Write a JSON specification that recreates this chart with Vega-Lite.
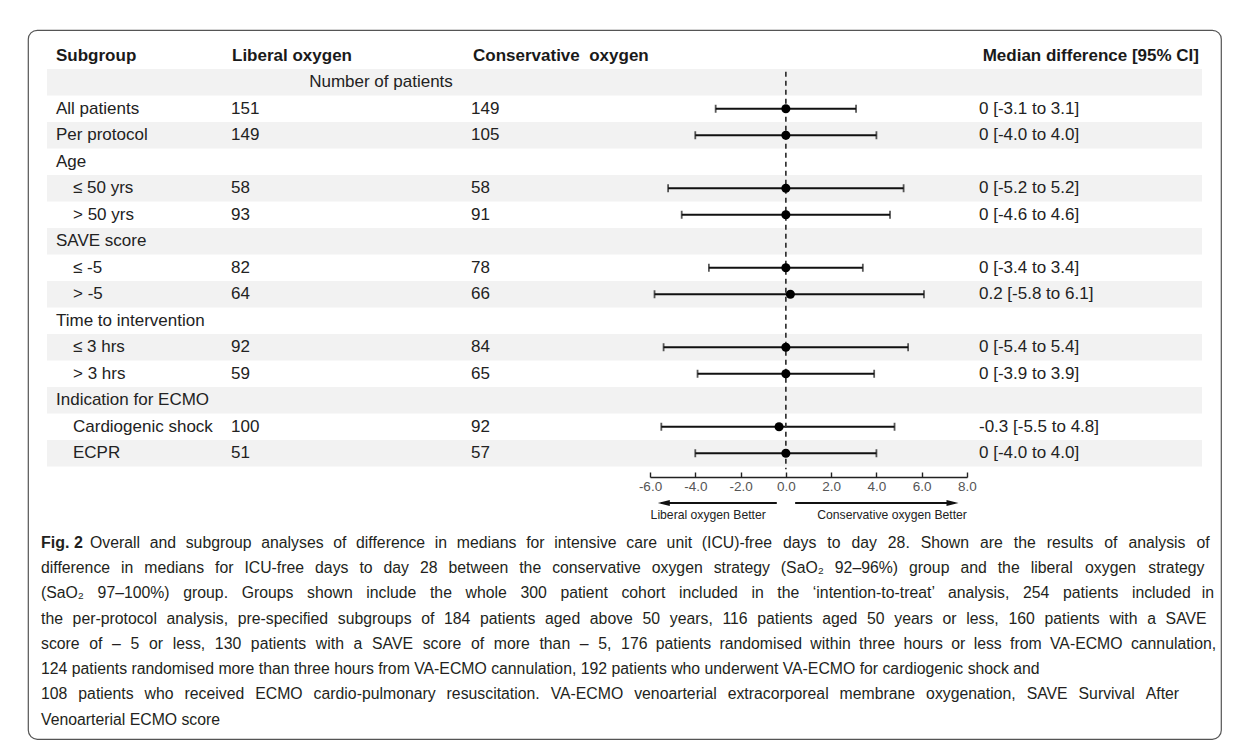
{
  "$schema": "https://vega.github.io/schema/vega-lite/v6.json",
  "width": 1193,
  "height": 709,
  "autosize": {"type": "none"},
  "padding": {"left": 28, "top": 30, "right": 15, "bottom": 15},
  "background": "white",
  "config": {
    "view": {"stroke": "#555555", "strokeWidth": 1.2, "cornerRadius": 9},
    "font": "Liberation Sans"
  },
  "datasets": {
    "rows": [
      {"row": 0, "label": "Subgroup", "level": 0, "lib": "Liberal oxygen", "cons": "Conservative\u00a0 oxygen", "ci": "Median difference [95% CI]"},
      {"row": 1, "label": "Number of patients", "level": -1},
      {"row": 2, "label": "All patients", "level": 0, "lib": "151", "cons": "149", "med": 0, "lo": -3.1, "hi": 3.1, "ci": "0 [-3.1 to 3.1]"},
      {"row": 3, "label": "Per protocol", "level": 0, "lib": "149", "cons": "105", "med": 0, "lo": -4.0, "hi": 4.0, "ci": "0 [-4.0 to 4.0]"},
      {"row": 4, "label": "Age", "level": 0},
      {"row": 5, "label": "≤ 50 yrs", "level": 1, "lib": "58", "cons": "58", "med": 0, "lo": -5.2, "hi": 5.2, "ci": "0 [-5.2 to 5.2]"},
      {"row": 6, "label": "> 50 yrs", "level": 1, "lib": "93", "cons": "91", "med": 0, "lo": -4.6, "hi": 4.6, "ci": "0 [-4.6 to 4.6]"},
      {"row": 7, "label": "SAVE score", "level": 0},
      {"row": 8, "label": "≤ -5", "level": 1, "lib": "82", "cons": "78", "med": 0, "lo": -3.4, "hi": 3.4, "ci": "0 [-3.4 to 3.4]"},
      {"row": 9, "label": "> -5", "level": 1, "lib": "64", "cons": "66", "med": 0.2, "lo": -5.8, "hi": 6.1, "ci": "0.2 [-5.8 to 6.1]"},
      {"row": 10, "label": "Time to intervention", "level": 0},
      {"row": 11, "label": "≤ 3 hrs", "level": 1, "lib": "92", "cons": "84", "med": 0, "lo": -5.4, "hi": 5.4, "ci": "0 [-5.4 to 5.4]"},
      {"row": 12, "label": "> 3 hrs", "level": 1, "lib": "59", "cons": "65", "med": 0, "lo": -3.9, "hi": 3.9, "ci": "0 [-3.9 to 3.9]"},
      {"row": 13, "label": "Indication for ECMO", "level": 0},
      {"row": 14, "label": "Cardiogenic shock", "level": 1, "lib": "100", "cons": "92", "med": -0.3, "lo": -5.5, "hi": 4.8, "ci": "-0.3 [-5.5 to 4.8]"},
      {"row": 15, "label": "ECPR", "level": 1, "lib": "51", "cons": "57", "med": 0, "lo": -4.0, "hi": 4.0, "ci": "0 [-4.0 to 4.0]"}
    ],
    "zeroline": [{"row": 1}, {"row": 16}],
    "arrowrow": [{"row": 17}],
    "caption": [
      {"row": 19,
       "first": "Overall \u2004and \u2004subgroup \u2004analyses \u2004of \u2004difference \u2004in \u2004medians \u2004for \u2004intensive \u2004care \u2004unit \u2004(ICU)-free \u2005\u2006days \u2005\u2006to \u2005\u2006day \u2005\u200628. \u2005\u2006Shown \u2005\u2006are \u2005\u2006the \u2005\u2006results \u2005\u2006of \u2005\u2006analysis \u2005\u2006of",
       "lines": ["",
        "difference \u2005\u2006in \u2005\u2006medians \u2005\u2006for \u2005\u2006ICU-free \u2005\u2006days \u2005\u2006to \u2005\u2006day \u2005\u200628 \u2005\u2006between \u2005\u2006the \u2005\u2006conservative \u2005\u2006oxygen \u2005\u2006strategy \u2005\u2006(SaO₂ \u2005\u200692–96%) \u2005\u2006group \u2005\u2006and \u2005\u2006the \u2005\u2006liberal \u2004\u2006oxygen \u2004\u2006strategy",
        "(SaO₂ \u2004\u200597–100%) \u2004\u2005group. \u2004\u2005Groups \u2004\u2005shown \u2004\u2005include \u2004\u2005the \u2004\u2005whole \u2004\u2005300 \u2004\u2005patient \u2004\u2005cohort \u2004\u2005included \u2004\u2005in \u2004\u2005the \u2004\u2005‘intention-to-treat’ \u2004\u2005analysis, \u2004\u2005254 \u2004\u2005patients \u2004\u2005included \u2005\u2006in",
        "the \u2004per-protocol \u2004analysis, \u2004pre-specified \u2004subgroups \u2004of \u2004184 \u2004patients \u2004aged \u2004above \u200450 \u2004years, \u2004116 \u2004patients \u2004aged \u200450 \u2004years \u2004or \u2004less, \u2004160 \u2004patients \u2004with \u2004a \u2004SAVE",
        "score \u2004of \u2004– \u20045 \u2004or \u2004less, \u2004130 \u2004patients \u2004with \u2004a \u2004SAVE \u2004score \u2004of \u2004more \u2004than \u2004– \u20045, \u2004176 \u2005patients \u2005randomised \u2005within \u2005three \u2005hours \u2005or \u2005less \u2005from \u2005VA-ECMO \u2005cannulation,",
        "124 patients randomised more than three hours from VA-ECMO cannulation, 192 patients who underwent VA-ECMO for cardiogenic shock and",
        "108 \u2005\u2006patients \u2005\u2006who \u2005\u2006received \u2005\u2006ECMO \u2005\u2006cardio-pulmonary \u2005\u2006resuscitation. \u2005\u2006VA-ECMO \u2005\u2006venoarterial \u2005\u2006extracorporeal \u2005\u2006membrane \u2005\u2006oxygenation, \u2005\u2006SAVE \u2005\u2006Survival \u2005\u2006After",
        "Venoarterial ECMO score"]}
    ]
  },
  "layer": [
    {
      "data": {"name": "rows"},
      "transform": [{"filter": "datum.row % 2 == 1"}],
      "mark": {"type": "rect", "color": "#f2f2f2"},
      "encoding": {
        "x": {"value": 19},
        "x2": {"value": 1174},
        "y": {"field": "row", "type": "ordinal", "axis": null,
              "scale": {"type": "band", "domain": [0,1,2,3,4,5,6,7,8,9,10,11,12,13,14,15,16,17,18,19], "range": [12.5, 542.5], "paddingInner": 0, "paddingOuter": 0}}
      }
    },
    {
      "data": {"name": "rows"},
      "transform": [{"filter": "datum.level == 0 && datum.row > 0"}],
      "mark": {"type": "text", "align": "left", "baseline": "middle", "fontSize": 17, "color": "#222222"},
      "encoding": {
        "x": {"value": 28},
        "y": {"field": "row", "type": "ordinal", "axis": null},
        "text": {"field": "label"}
      }
    },
    {
      "data": {"name": "rows"},
      "transform": [{"filter": "datum.level == 1"}],
      "mark": {"type": "text", "align": "left", "baseline": "middle", "fontSize": 17, "color": "#222222"},
      "encoding": {
        "x": {"value": 45},
        "y": {"field": "row", "type": "ordinal", "axis": null},
        "text": {"field": "label"}
      }
    },
    {
      "data": {"name": "rows"},
      "transform": [{"filter": "datum.level == -1"}],
      "mark": {"type": "text", "align": "center", "baseline": "middle", "fontSize": 17, "color": "#222222"},
      "encoding": {
        "x": {"value": 353},
        "y": {"field": "row", "type": "ordinal", "axis": null},
        "text": {"field": "label"}
      }
    },
    {
      "data": {"name": "rows"},
      "transform": [{"filter": "isValid(datum.lib) && datum.row > 0"}],
      "mark": {"type": "text", "align": "left", "baseline": "middle", "fontSize": 17, "color": "#222222"},
      "encoding": {
        "x": {"value": 203},
        "y": {"field": "row", "type": "ordinal", "axis": null},
        "text": {"field": "lib"}
      }
    },
    {
      "data": {"name": "rows"},
      "transform": [{"filter": "isValid(datum.cons) && datum.row > 0"}],
      "mark": {"type": "text", "align": "left", "baseline": "middle", "fontSize": 17, "color": "#222222"},
      "encoding": {
        "x": {"value": 443},
        "y": {"field": "row", "type": "ordinal", "axis": null},
        "text": {"field": "cons"}
      }
    },
    {
      "data": {"name": "rows"},
      "transform": [{"filter": "isValid(datum.ci) && datum.row > 0"}],
      "mark": {"type": "text", "align": "left", "baseline": "middle", "fontSize": 17, "color": "#222222"},
      "encoding": {
        "x": {"value": 951},
        "y": {"field": "row", "type": "ordinal", "axis": null},
        "text": {"field": "ci"}
      }
    },
    {
      "data": {"name": "rows"},
      "transform": [{"filter": "datum.row == 0"}],
      "mark": {"type": "text", "align": "left", "baseline": "middle", "fontSize": 17, "fontWeight": "bold", "color": "#1a1a1a"},
      "encoding": {
        "x": {"value": 28},
        "y": {"field": "row", "type": "ordinal", "axis": null},
        "text": {"field": "label"}
      }
    },
    {
      "data": {"name": "rows"},
      "transform": [{"filter": "datum.row == 0"}],
      "mark": {"type": "text", "align": "left", "baseline": "middle", "fontSize": 17, "fontWeight": "bold", "color": "#1a1a1a"},
      "encoding": {
        "x": {"value": 204},
        "y": {"field": "row", "type": "ordinal", "axis": null},
        "text": {"field": "lib"}
      }
    },
    {
      "data": {"name": "rows"},
      "transform": [{"filter": "datum.row == 0"}],
      "mark": {"type": "text", "align": "left", "baseline": "middle", "fontSize": 17, "fontWeight": "bold", "color": "#1a1a1a"},
      "encoding": {
        "x": {"value": 445},
        "y": {"field": "row", "type": "ordinal", "axis": null},
        "text": {"field": "cons"}
      }
    },
    {
      "data": {"name": "rows"},
      "transform": [{"filter": "datum.row == 0"}],
      "mark": {"type": "text", "align": "right", "baseline": "middle", "fontSize": 17, "fontWeight": "bold", "color": "#1a1a1a"},
      "encoding": {
        "x": {"value": 1171},
        "y": {"field": "row", "type": "ordinal", "axis": null},
        "text": {"field": "ci"}
      }
    },
    {
      "data": {"name": "rows"},
      "transform": [{"filter": "isValid(datum.med)"}],
      "mark": {"type": "rule", "color": "#111111", "strokeWidth": 1.8},
      "encoding": {
        "x": {"field": "lo", "type": "quantitative",
              "scale": {"domain": [-6, 8], "range": [622, 939], "nice": false, "zero": false},
              "axis": {"orient": "top", "offset": -447, "values": [-6, -4, -2, 0, 2, 4, 6, 8], "format": ".1f",
                       "labelExpr": "replace(datum.label, '\u2212', '-')",
                       "tickSize": 5, "labelPadding": -14.5, "labelBaseline": "middle", "labelFontSize": 13.5,
                       "labelFont": "Liberation Sans", "labelColor": "#555555", "domainColor": "#222222", "tickColor": "#222222",
                       "domainWidth": 1.4, "tickWidth": 1.4, "grid": false, "title": null, "labelOverlap": false, "labelFlush": false}},
        "x2": {"field": "hi"},
        "y": {"field": "row", "type": "ordinal", "axis": null}
      }
    },
    {
      "data": {"name": "zeroline"},
      "mark": {"type": "line", "color": "#333333", "strokeWidth": 1.7, "strokeDash": [5, 4]},
      "encoding": {
        "x": {"datum": 0, "type": "quantitative"},
        "y": {"field": "row", "type": "ordinal", "axis": null, "bandPosition": 0.1}
      }
    },
    {
      "data": {"name": "rows"},
      "transform": [{"filter": "isValid(datum.med)"}],
      "mark": {"type": "tick", "color": "#111111", "orient": "vertical", "size": 8, "thickness": 1.8},
      "encoding": {
        "x": {"field": "lo", "type": "quantitative"},
        "y": {"field": "row", "type": "ordinal", "axis": null}
      }
    },
    {
      "data": {"name": "rows"},
      "transform": [{"filter": "isValid(datum.med)"}],
      "mark": {"type": "tick", "color": "#111111", "orient": "vertical", "size": 8, "thickness": 1.8},
      "encoding": {
        "x": {"field": "hi", "type": "quantitative"},
        "y": {"field": "row", "type": "ordinal", "axis": null}
      }
    },
    {
      "data": {"name": "rows"},
      "transform": [{"filter": "isValid(datum.med)"}],
      "mark": {"type": "point", "shape": "circle", "filled": true, "color": "#000000", "size": 82, "opacity": 1},
      "encoding": {
        "x": {"field": "med", "type": "quantitative"},
        "y": {"field": "row", "type": "ordinal", "axis": null}
      }
    },
    {
      "data": {"name": "arrowrow"},
      "mark": {"type": "rule", "color": "#111111", "strokeWidth": 2},
      "encoding": {
        "x": {"datum": -5.5, "type": "quantitative"},
        "x2": {"datum": -0.4},
        "y": {"field": "row", "type": "ordinal", "axis": null, "bandPosition": 0.38}
      }
    },
    {
      "data": {"name": "arrowrow"},
      "mark": {"type": "rule", "color": "#111111", "strokeWidth": 2},
      "encoding": {
        "x": {"datum": 0.41, "type": "quantitative"},
        "x2": {"datum": 7.45},
        "y": {"field": "row", "type": "ordinal", "axis": null, "bandPosition": 0.38}
      }
    },
    {
      "data": {"name": "arrowrow"},
      "mark": {"type": "point", "shape": "M-1,0L1,-0.5L1,0.5Z", "filled": true, "color": "#111111", "size": 144, "opacity": 1},
      "encoding": {
        "x": {"datum": -5.39, "type": "quantitative"},
        "y": {"field": "row", "type": "ordinal", "axis": null, "bandPosition": 0.38}
      }
    },
    {
      "data": {"name": "arrowrow"},
      "mark": {"type": "point", "shape": "M1,0L-1,-0.5L-1,0.5Z", "filled": true, "color": "#111111", "size": 144, "opacity": 1},
      "encoding": {
        "x": {"datum": 7.36, "type": "quantitative"},
        "y": {"field": "row", "type": "ordinal", "axis": null, "bandPosition": 0.38}
      }
    },
    {
      "data": {"name": "arrowrow"},
      "mark": {"type": "text", "text": "Liberal oxygen Better", "align": "center", "baseline": "middle", "fontSize": 12.2, "color": "#222222"},
      "encoding": {
        "x": {"datum": -3.43, "type": "quantitative"},
        "y": {"field": "row", "type": "ordinal", "axis": null, "bandPosition": 0.83}
      }
    },
    {
      "data": {"name": "arrowrow"},
      "mark": {"type": "text", "text": "Conservative oxygen Better", "align": "center", "baseline": "middle", "fontSize": 12.2, "color": "#222222"},
      "encoding": {
        "x": {"datum": 4.69, "type": "quantitative"},
        "y": {"field": "row", "type": "ordinal", "axis": null, "bandPosition": 0.83}
      }
    },
    {
      "data": {"name": "caption"},
      "mark": {"type": "text", "text": "Fig. 2", "align": "left", "baseline": "alphabetic", "fontSize": 16, "fontWeight": "bold", "color": "#231f20"},
      "encoding": {
        "x": {"value": 13},
        "y": {"field": "row", "type": "ordinal", "axis": null, "bandPosition": 0.064}
      }
    },
    {
      "data": {"name": "caption"},
      "mark": {"type": "text", "align": "left", "baseline": "alphabetic", "fontSize": 15.8, "color": "#231f20"},
      "encoding": {
        "x": {"value": 62},
        "y": {"field": "row", "type": "ordinal", "axis": null, "bandPosition": 0.064},
        "text": {"field": "first"}
      }
    },
    {
      "data": {"name": "caption"},
      "mark": {"type": "text", "align": "left", "baseline": "alphabetic", "fontSize": 15.8, "lineHeight": 25.3, "color": "#231f20"},
      "encoding": {
        "x": {"value": 13},
        "y": {"field": "row", "type": "ordinal", "axis": null, "bandPosition": 0.064},
        "text": {"field": "lines"}
      }
    }
  ]
}
